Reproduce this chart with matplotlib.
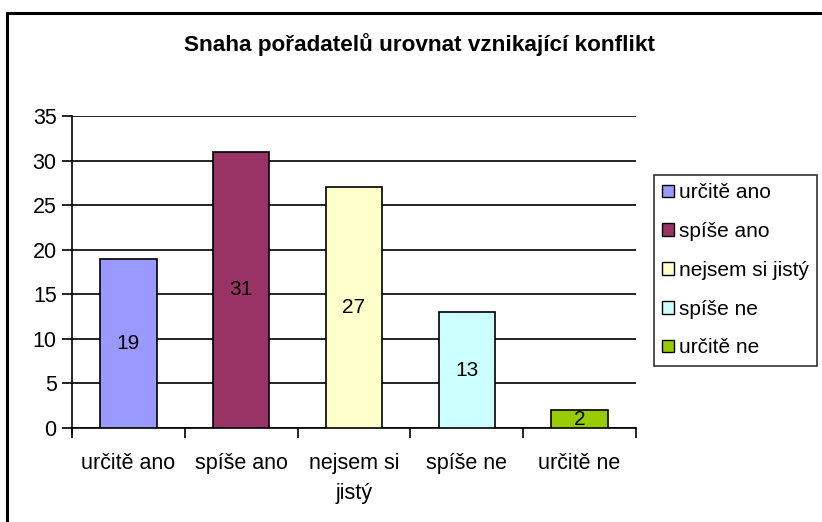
import numpy as np
import matplotlib.pyplot as plt
from matplotlib.patches import Rectangle, Patch

categories = ["určitě ano", "spíše ano", "nejsem si jistý", "spíše ne", "určitě ne"]
tick_labels = ["určitě ano", "spíše ano", "nejsem si\njistý", "spíše ne", "určitě ne"]
values = [19, 31, 27, 13, 2]
colors = ["#9999FF", "#993366", "#FFFFCC", "#CCFFFF", "#99CC00"]

plt.rcParams['font.family'] = ['Liberation Sans', 'DejaVu Sans']

fig = plt.figure(figsize=(8.22, 5.22), dpi=100)
# outer chart border (runs off the right and bottom edge)
fig.patches.append(Rectangle((7 / 822, -0.1), 1.2, 1 - 13 / 522 + 0.1,
                             transform=fig.transFigure, fill=False,
                             edgecolor='black', linewidth=2.2))

ax = fig.add_axes([72 / 822, 1 - 428 / 522, (636 - 72) / 822, (428 - 116) / 522])
x = np.arange(len(values))
bars = ax.bar(x, values, width=0.5, color=colors, edgecolor='black', linewidth=1.2, zorder=3)

for b, v in zip(bars, values):
    ax.text(b.get_x() + b.get_width() / 2, v / 2, str(v), ha='center', va='center',
            fontsize=15, zorder=4)

ax.set_xlim(-0.5, len(values) - 0.5)
ax.set_ylim(0, 35)
ax.set_yticks(range(0, 36, 5))
ax.yaxis.grid(True, color='black', linewidth=1.2, zorder=0)
ax.tick_params(axis='y', labelsize=15.5, length=7, width=1.2, direction='out', pad=4)

ax.set_xticks(x)
ax.set_xticklabels(tick_labels, fontsize=15.5, linespacing=1.55, va='top')
ax.tick_params(axis='x', length=0, pad=18)
ax.set_xticks(np.arange(-0.5, len(values)), minor=True)
ax.tick_params(axis='x', which='minor', length=7, width=1.2, direction='out')

for s in ['top', 'right']:
    ax.spines[s].set_visible(False)
ax.spines['left'].set_linewidth(1.2)
ax.spines['bottom'].set_linewidth(1.2)
ax.spines['left'].set_bounds(-0.7, 35)

fig.text(419 / 822, 1 - 45 / 522, "Snaha pořadatelů urovnat vznikající konflikt",
         ha='center', va='center', fontsize=16.2, fontweight='bold')

handles = [Patch(facecolor=c, edgecolor='black', linewidth=1) for c in colors]
leg = fig.legend(handles, categories, loc='upper left',
                 bbox_to_anchor=(654 / 822, 1 - 175 / 522), fontsize=15,
                 frameon=True, fancybox=False, handlelength=0.55, handleheight=0.55,
                 handletextpad=0.25, labelspacing=0.95, borderpad=0.4, borderaxespad=0)
leg.get_frame().set_edgecolor('black')
leg.get_frame().set_linewidth(1.2)

fig.savefig('out.png', dpi=100)
